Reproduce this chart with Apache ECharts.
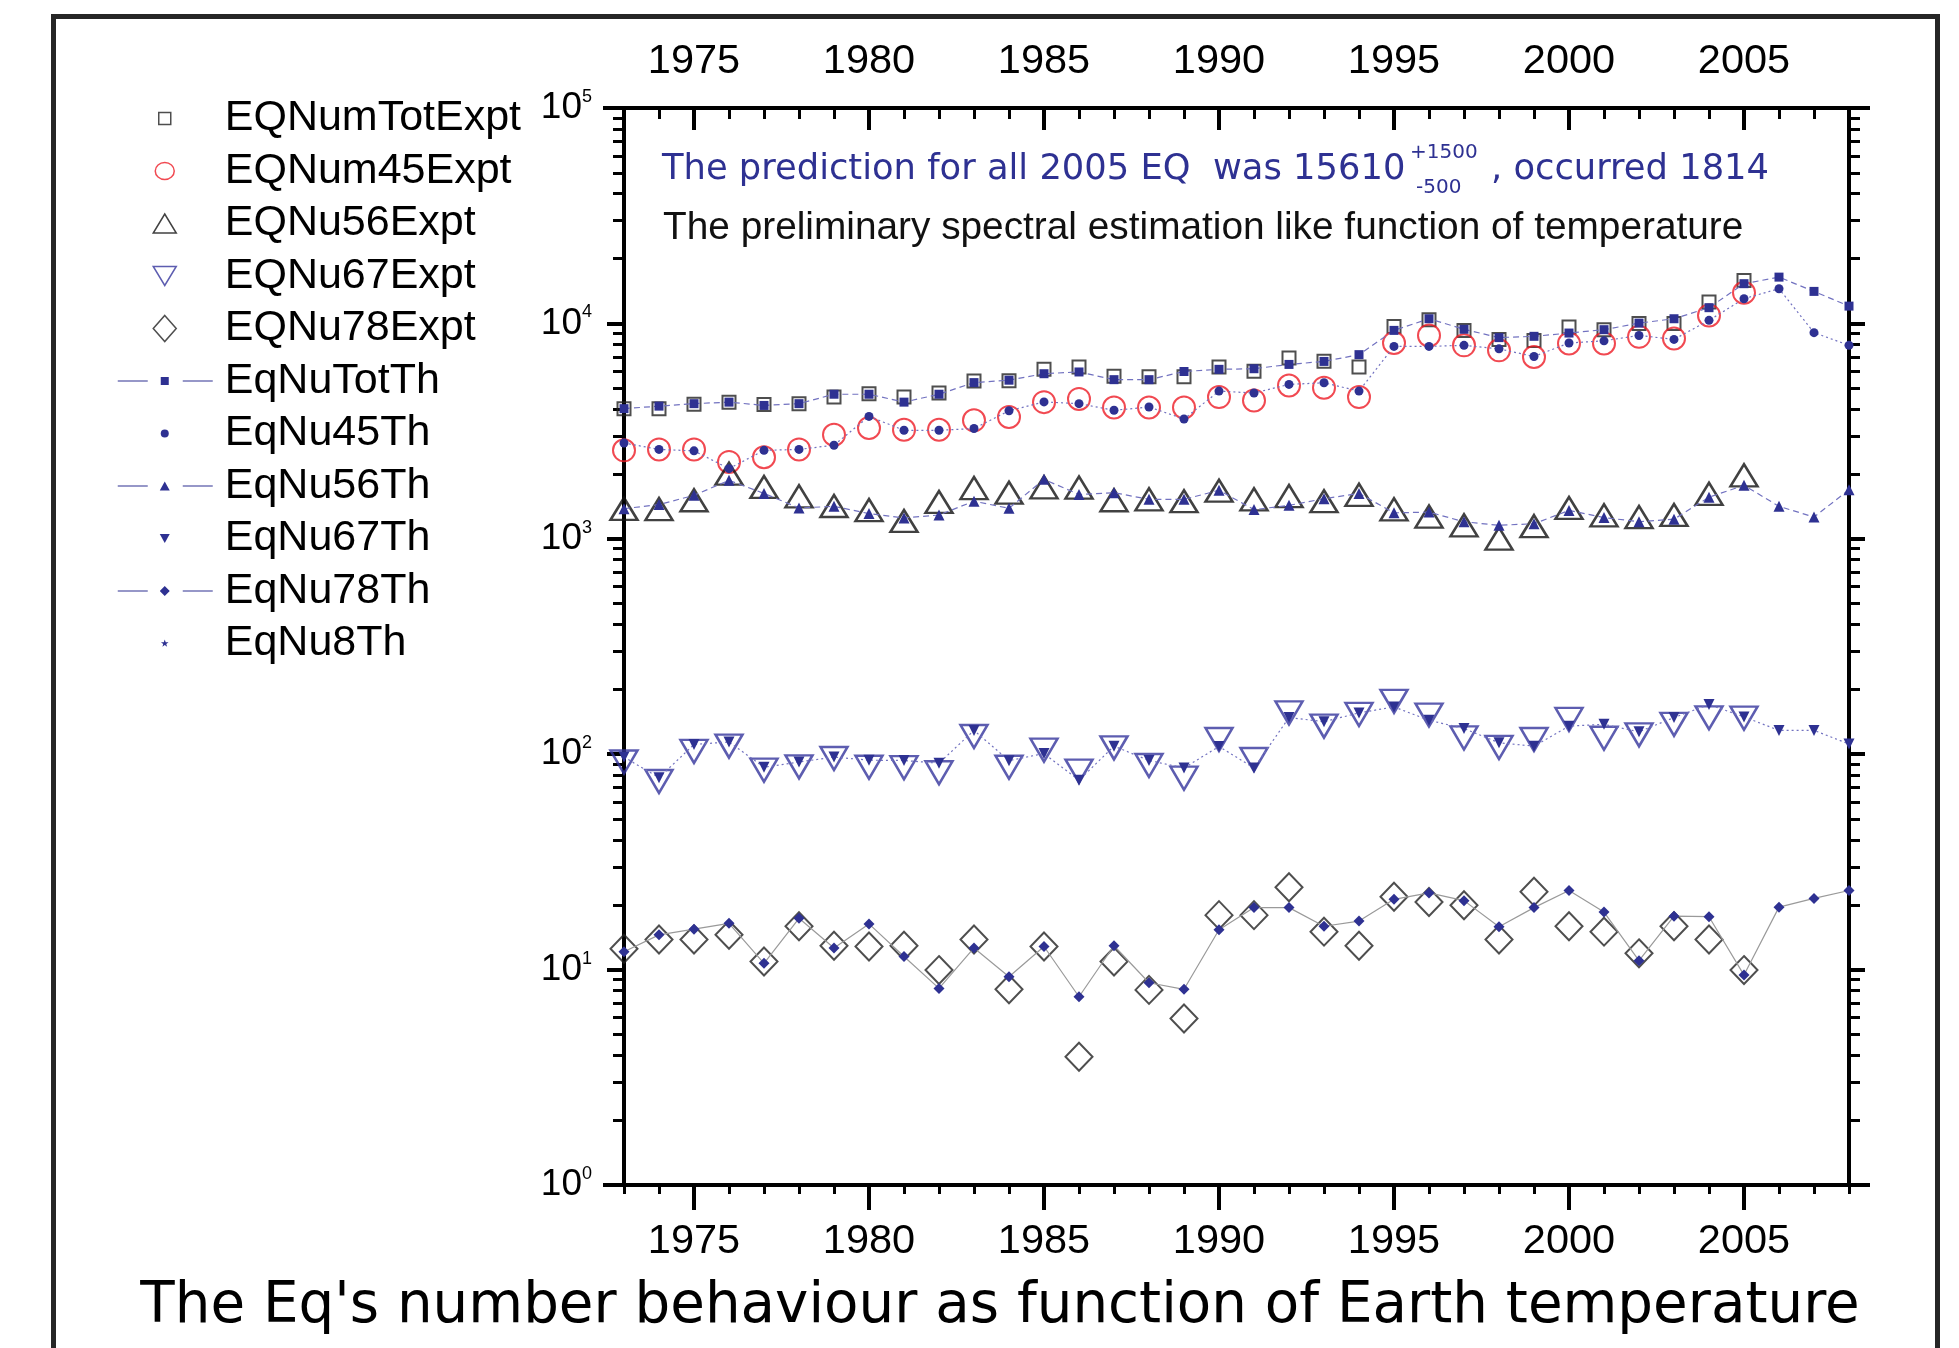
<!DOCTYPE html>
<html>
<head>
<meta charset="utf-8">
<title>Eq number vs Earth temperature</title>
<script src="https://cdn.jsdelivr.net/npm/echarts@6/dist/echarts.min.js"></script>
<style>
  html, body { margin: 0; padding: 0; background: #fff; }
  #chart { width: 1959px; height: 1348px; }
</style>
</head>
<body>
<div id="chart"></div>
<script>
// years of the observed (Expt) and the model (Th) series
const yearsExpt = [1973, 1974, 1975, 1976, 1977, 1978, 1979, 1980, 1981, 1982, 1983, 1984, 1985, 1986, 1987, 1988, 1989,
  1990, 1991, 1992, 1993, 1994, 1995, 1996, 1997, 1998, 1999, 2000, 2001, 2002, 2003, 2004, 2005];
const yearsTh = [1973, 1974, 1975, 1976, 1977, 1978, 1979, 1980, 1981, 1982, 1983, 1984, 1985, 1986, 1987, 1988, 1989,
  1990, 1991, 1992, 1993, 1994, 1995, 1996, 1997, 1998, 1999, 2000, 2001, 2002, 2003, 2004, 2005, 2006, 2007, 2008];

const numTotExpt = [4020, 4020, 4210, 4310, 4200, 4240, 4550, 4720, 4550, 4750, 5400, 5420, 6120, 6270, 5680, 5650, 5650,
  6280, 5990, 6900, 6680, 6270, 9680, 10400, 9280, 8430, 8340, 9620, 9350, 9980, 9980, 12560, 15830];
const num45Expt = [2575, 2600, 2600, 2275, 2390, 2600, 3043, 3270, 3210, 3210, 3548, 3680, 4310, 4460, 4070, 4070, 4070,
  4550, 4390, 5150, 5030, 4550, 8110, 8790, 7910, 7500, 6980, 8070, 8070, 8660, 8510, 10890, 13870];
const nu56Expt = [1377, 1375, 1510, 2005, 1740, 1575, 1420, 1360, 1210, 1483, 1720, 1637, 1735, 1730, 1510, 1525, 1495,
  1673, 1525, 1580, 1495, 1600, 1370, 1268, 1155, 1002, 1145, 1390, 1285, 1262, 1290, 1618, 1972];
const nu67Expt = [92, 74.7, 103, 109, 84.3, 87.4, 95.5, 87, 86.6, 82, 120.8, 87, 104.4, 83.5, 107, 88.6, 77.4,
  117, 94.5, 155.5, 135, 153, 176, 152, 119, 107.5, 117, 145, 118.6, 123, 137.6, 147.6, 147];
const nu78Expt = [12.5, 13.8, 13.8, 14.5, 10.9, 15.9, 12.9, 12.8, 12.9, 9.95, 13.8, 8.1, 12.8, 3.94, 10.9, 8.05, 5.93,
  17.9, 17.9, 24.1, 15, 12.9, 21.8, 20.6, 19.9, 13.8, 23, 15.9, 15, 11.9, 15.9, 13.8, 9.95];

const nuTotTh = [4020, 4130, 4240, 4310, 4160, 4240, 4690, 4690, 4310, 4690, 5310, 5450, 5840, 5950, 5480, 5480, 5980,
  6120, 6160, 6450, 6660, 7160, 9280, 10510, 9390, 8590, 8710, 9020, 9350, 10030, 10510, 11830, 15290, 16400, 14080, 12030];
const nu45Th = [2785, 2600, 2560, 2117, 2575, 2600, 2720, 3700, 3190, 3190, 3250, 3930, 4320, 4240, 3950, 4090, 3600,
  4850, 4750, 5210, 5300, 4850, 7820, 7820, 7910, 7620, 7020, 8110, 8300, 8790, 8430, 10330, 13020, 14490, 9060, 7910];
const nu56Th = [1380, 1441, 1592, 1868, 1625, 1390, 1415, 1309, 1250, 1290, 1495, 1385, 1888, 1605, 1637, 1525, 1525,
  1680, 1366, 1430, 1535, 1625, 1320, 1330, 1200, 1155, 1175, 1355, 1255, 1200, 1233, 1560, 1771, 1415, 1262, 1688];
const nu67Th = [97, 77.8, 111, 114, 87, 92, 97, 93.8, 93.5, 90.8, 129, 93.3, 100.7, 75.7, 109, 93.5, 86.3,
  108.6, 86.3, 148, 141.5, 155.5, 165.8, 143.7, 131.6, 113, 109, 135, 137.6, 127, 148, 170, 149, 129, 129, 111.5];
const nu78Th = [12.1, 14.5, 15.4, 16.4, 10.7, 17.3, 12.6, 16.3, 11.5, 8.18, 12.6, 9.26, 12.8, 7.48, 12.9, 8.69, 8.1,
  15.3, 19.4, 19.4, 15.9, 16.8, 21.2, 22.7, 20.9, 15.8, 19.4, 23.3, 18.5, 11, 17.7, 17.6, 9.43, 19.5, 21.4, 23.3];
const nu8Th = [];

// axis ticks and labels
const yearLabels = [1975, 1980, 1985, 1990, 1995, 2000, 2005];
const yearMinor = [1973, 1974, 1976, 1977, 1978, 1979, 1981, 1982, 1983, 1984, 1986, 1987, 1988, 1989, 1991, 1992,
  1993, 1994, 1996, 1997, 1998, 1999, 2001, 2002, 2003, 2004, 2006, 2007, 2008];
const decades = [1, 10, 100, 1000, 10000, 100000];
const decadeMinor = [];
for (let d = 1; d < 100000; d *= 10) {
  for (let k = 2; k <= 9; k++) decadeMinor.push(k * d);
}

const BLUE = '#2e3192';
const LINEBLUE = '#7272c0';
const ARIAL = 'Liberation Sans, Arial, sans-serif';
const VERD = 'DejaVu Sans, Verdana, sans-serif';

const pairs = (xs, ys) => ys.map((v, i) => [xs[i], v]);

// legend icons drawn in a 96x26 box (the two moveTo's pin the box size)
const BOX = 'path://M0,0 M96,26 ';
const SEG = 'M1,12.5 L31,12.5 L31,13.5 L1,13.5 Z M66,12.5 L96,12.5 L96,13.5 L66,13.5 Z ';
const icons = {
  sq: BOX + 'M42,7 L54,7 L54,19 L42,19 Z',
  circ: BOX + 'M38.5,13 A9.5,8.5 0 1 1 57.5,13 A9.5,8.5 0 1 1 38.5,13 Z',
  tri: BOX + 'M36.5,22.5 L59.5,22.5 L48,3.5 Z',
  dtri: BOX + 'M36.5,3.5 L59.5,3.5 L48,22.5 Z',
  dia: BOX + 'M48,0 L59.5,13 L48,26 L36.5,13 Z',
  sqTh: BOX + SEG + 'M44,9 L52,9 L52,17 L44,17 Z',
  dotTh: BOX + 'M44,13 A4,4 0 1 1 52,13 A4,4 0 1 1 44,13 Z',
  triTh: BOX + SEG + 'M43,17.5 L53,17.5 L48,8.5 Z',
  dtriTh: BOX + 'M43,8.5 L53,8.5 L48,17.5 Z',
  diaTh: BOX + SEG + 'M48,8 L53,13 L48,18 L43,13 Z',
  star: BOX + 'M48,9 L48.94,11.71 L51.8,11.76 L49.52,13.49 L50.35,16.24 L48,14.6 L45.65,16.24 L46.48,13.49 L44.2,11.76 L47.06,11.71 Z'
};

function expt(name, ys, symbol, size, stroke, width, rotate) {
  return {
    name: name, type: 'scatter', data: pairs(yearsExpt, ys),
    symbol: symbol, symbolSize: size, symbolRotate: rotate || 0,
    itemStyle: { color: 'rgba(0,0,0,0)', borderColor: stroke, borderWidth: width },
    silent: true
  };
}

function theory(name, ys, symbol, size, lineColor, lineType, rotate) {
  return {
    name: name, type: 'line', data: pairs(yearsTh, ys),
    symbol: symbol, symbolSize: size, symbolRotate: rotate || 0, showSymbol: true,
    itemStyle: { color: BLUE, borderWidth: 0 },
    lineStyle: { color: lineColor, width: 1.2, type: lineType },
    silent: true
  };
}

function xAx(pos, ticks, len, width, inside, labels) {
  return {
    type: 'value', position: pos, min: 1973, max: 2008,
    axisLine: { show: false, onZero: false },
    splitLine: { show: false },
    axisTick: { show: true, inside: inside, customValues: ticks, length: len, lineStyle: { color: '#000', width: width } },
    axisLabel: labels ? {
      show: true, customValues: labels, margin: pos === 'top' ? 25 : 36,
      fontFamily: ARIAL, fontSize: 41.5, color: '#000', formatter: v => String(v)
    } : { show: false }
  };
}

function yAx(pos, ticks, len, width, lineOn, labels) {
  return {
    type: 'log', logBase: 10, position: pos, min: 1, max: 100000,
    axisLine: { show: lineOn, onZero: false, lineStyle: { color: '#000', width: 4 } },
    splitLine: { show: false },
    axisTick: { show: true, customValues: ticks, length: len, lineStyle: { color: '#000', width: width } },
    axisLabel: labels ? {
      show: true, customValues: labels, margin: 32, color: '#000',
      formatter: v => '{b|10}{s|' + Math.round(Math.log10(v)) + '}',
      rich: {
        b: { fontFamily: ARIAL, fontSize: 37, lineHeight: 40, color: '#000' },
        s: { fontFamily: ARIAL, fontSize: 18, lineHeight: 40, verticalAlign: 'top', color: '#000' }
      }
    } : { show: false }
  };
}

const legendItems = [
  { name: 'EQNumTotExpt', icon: icons.sq, itemStyle: { borderWidth: 1.5 } },
  { name: 'EQNum45Expt', icon: icons.circ, itemStyle: { borderWidth: 1.5 } },
  { name: 'EQNu56Expt', icon: icons.tri, itemStyle: { borderWidth: 1.5 } },
  { name: 'EQNu67Expt', icon: icons.dtri, itemStyle: { borderWidth: 1.5 } },
  { name: 'EQNu78Expt', icon: icons.dia, itemStyle: { borderWidth: 1.5 } },
  { name: 'EqNuTotTh', icon: icons.sqTh, itemStyle: { borderWidth: 0 } },
  { name: 'EqNu45Th', icon: icons.dotTh, itemStyle: { borderWidth: 0 } },
  { name: 'EqNu56Th', icon: icons.triTh, itemStyle: { borderWidth: 0 } },
  { name: 'EqNu67Th', icon: icons.dtriTh, itemStyle: { borderWidth: 0 } },
  { name: 'EqNu78Th', icon: icons.diaTh, itemStyle: { borderWidth: 0 } },
  { name: 'EqNu8Th', icon: icons.star, itemStyle: { borderWidth: 0 } }
];

const option = {
  animation: false,
  backgroundColor: '#fff',
  grid: { left: 624, top: 108, width: 1225, height: 1077, containLabel: false },
  legend: {
    orient: 'vertical', left: 116, top: 97, padding: 0,
    itemWidth: 96, itemHeight: 26, itemGap: 9.5, selectedMode: false,
    data: legendItems,
    textStyle: { fontFamily: ARIAL, fontSize: 43, lineHeight: 42, color: '#000', padding: [0, 0, 0, 7] }
  },
  xAxis: [
    xAx('bottom', yearLabels, 25, 4, false, yearLabels),
    xAx('bottom', yearMinor, 9, 3, false, null),
    xAx('top', yearLabels, 22, 4, true, yearLabels),
    xAx('top', yearMinor, 11, 3, true, null)
  ],
  yAxis: [
    yAx('left', decades, 17, 4, true, decades),
    yAx('left', decadeMinor, 11, 3, false, null),
    yAx('right', decades, 16, 4, true, null),
    yAx('right', decadeMinor, 11, 3, false, null)
  ],
  series: [
    expt('EQNumTotExpt', numTotExpt, 'rect', 13, '#222', 2),
    expt('EQNum45Expt', num45Expt, 'circle', 22, '#ee1c25', 2),
    expt('EQNu56Expt', nu56Expt, 'triangle', [27, 22], '#111', 2.5),
    expt('EQNu67Expt', nu67Expt, 'triangle', [27, 23], '#34349c', 2.5, 180),
    expt('EQNu78Expt', nu78Expt, 'diamond', [27, 28], '#222', 2),
    theory('EqNuTotTh', nuTotTh, 'rect', 9, LINEBLUE, [6, 4]),
    theory('EqNu45Th', nu45Th, 'circle', 9, LINEBLUE, [2, 3]),
    theory('EqNu56Th', nu56Th, 'triangle', 11, LINEBLUE, [6, 4]),
    theory('EqNu67Th', nu67Th, 'triangle', 11, LINEBLUE, [2, 3], 180),
    theory('EqNu78Th', nu78Th, 'diamond', 11, '#9a9a9a', 'solid'),
    theory('EqNu8Th', nu8Th, 'pin', 6, LINEBLUE, 'solid')
  ],
  graphic: [
    // outer frame
    { type: 'rect', silent: true, shape: { x: 53.5, y: 16.5, width: 1884, height: 1420 },
      style: { fill: 'none', stroke: '#262626', lineWidth: 5 } },
    // top and bottom frame lines of the plot, a bit wider than the plot
    { type: 'line', silent: true, shape: { x1: 603, y1: 108, x2: 1870, y2: 108 }, style: { stroke: '#000', lineWidth: 4 } },
    { type: 'line', silent: true, shape: { x1: 603, y1: 1185, x2: 1870, y2: 1185 }, style: { stroke: '#000', lineWidth: 4 } },
    { type: 'text', silent: true, x: 662, y: 170,
      style: { text: 'The prediction for all 2005 EQ  was 15610', fontFamily: VERD, fontSize: 35.3, fill: BLUE, verticalAlign: 'middle' } },
    { type: 'text', silent: true, x: 1410, y: 152.5,
      style: { text: '+1500', fontFamily: VERD, fontSize: 20, fill: BLUE, verticalAlign: 'middle' } },
    { type: 'text', silent: true, x: 1416, y: 187.5,
      style: { text: '-500', fontFamily: VERD, fontSize: 20, fill: BLUE, verticalAlign: 'middle' } },
    { type: 'text', silent: true, x: 1491, y: 170,
      style: { text: ', occurred 1814', fontFamily: VERD, fontSize: 35.3, fill: BLUE, verticalAlign: 'middle' } },
    { type: 'text', silent: true, x: 663, y: 228,
      style: { text: 'The preliminary spectral estimation like function of temperature', fontFamily: ARIAL, fontSize: 38.8, fill: '#111', verticalAlign: 'middle' } },
    { type: 'text', silent: true, x: 1000, y: 1307,
      style: { text: "The Eq's number behaviour as function of Earth temperature", fontFamily: VERD, fontSize: 56.3, fill: '#000', align: 'center', verticalAlign: 'middle' } }
  ]
};

const chart = echarts.init(document.getElementById('chart'), null, { renderer: 'canvas' });
chart.setOption(option);
</script>
</body>
</html>
